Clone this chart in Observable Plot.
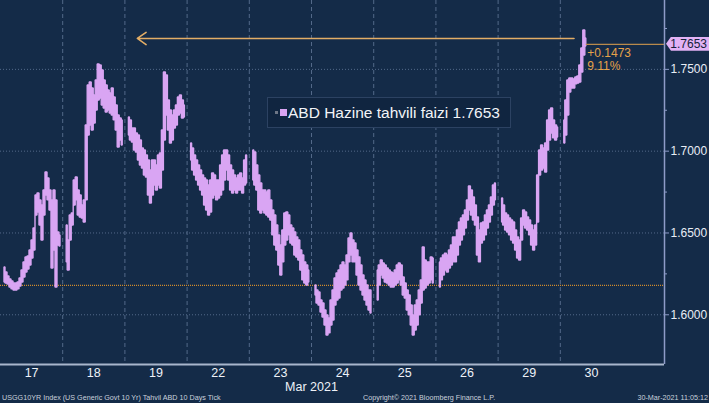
<!DOCTYPE html>
<html><head><meta charset="utf-8">
<script src="https://cdn.jsdelivr.net/npm/d3@7"></script>
<script src="https://cdn.jsdelivr.net/npm/@observablehq/plot@0.6"></script>
<style>
html,body{margin:0;padding:0;background:#142b48;}
#wrap{position:relative;width:709px;height:403px;overflow:hidden;background:#142b48;font-family:"Liberation Sans",Arial,sans-serif;}
#wrap svg{position:absolute;left:0;top:0;}
.legend{position:absolute;left:267px;top:97px;width:244px;height:31px;background:#102540;border:1px solid #2c4262;box-sizing:border-box;color:#f2f4f8;font-size:15.5px;line-height:29px;white-space:nowrap;}
.legend .g{position:absolute;left:7px;top:13px;width:3px;height:3px;background:#6d7686;}
.legend .sw{position:absolute;left:12px;top:11px;width:7px;height:7px;background:#d9a5f3;}
.legend .tx{position:absolute;left:20px;top:0;}
.tag{position:absolute;left:666px;width:43px;height:14px;background:#e2b2f5;color:#14213a;font-size:12px;line-height:14px;text-align:right;padding-right:2px;box-sizing:border-box;clip-path:polygon(0 50%,5px 0,100% 0,100% 100%,5px 100%);}
.cap{position:absolute;top:393px;font-size:7.2px;color:#c9d1dc;white-space:nowrap;}
</style></head><body><div id="wrap"></div>
<script>
// ---- data ----
const dayLabels = ["17","18","19","22","23","24","25","26","29","30"];
const monthLabel = "Mar 2021";
const seriesName = "ABD Hazine tahvili faizi";
const lastValue = 1.7653;
const netChange = 0.1473;
const pctChange = "9.11%";
const yTicks = [1.60, 1.65, 1.70, 1.75];
const yMinorTicks = [1.625, 1.675, 1.725, 1.775];
// recent-high arrow annotation (level, from day-position, to day-position)
const arrowLevel = 1.7689, arrowFrom = 9.22, arrowTo = 2.2;
// tick samples: regular time grid inside each day's session
const sampleStart = 0.0643, sampleStep = 0.03215;

const hi17 = [1.6289,1.6258,1.6234,1.6216,1.6203,1.6191,1.6191,1.6197,1.6222,1.6271,1.6320,1.6350,1.6356,1.6393,1.6454,1.6527,1.6729,1.6741,1.6699,1.6668,1.6760,1.6870,1.6833,1.6760,1.6699,1.6760,1.6699,1.6503,1.6485];
const lo17 = [1.6197,1.6191,1.6185,1.6167,1.6155,1.6148,1.6148,1.6155,1.6173,1.6197,1.6228,1.6258,1.6277,1.6301,1.6344,1.6393,1.6607,1.6625,1.6546,1.6454,1.6607,1.6729,1.6699,1.6637,1.6283,1.6393,1.6167,1.6423,1.6417];
const hi18 = [1.6546,1.6454,1.6607,1.6619,1.6821,1.6839,1.6760,1.6729,1.6668,1.6699,1.7157,1.7401,1.7420,1.7383,1.7340,1.7432,1.7530,1.7524,1.7493,1.7432,1.7401,1.7371,1.7353,1.7383,1.7328,1.7279,1.7218,1.7200,1.7188];
const lo18 = [1.6320,1.6271,1.6454,1.6546,1.6668,1.6699,1.6607,1.6595,1.6588,1.6564,1.6699,1.7096,1.7157,1.7126,1.7169,1.7249,1.7310,1.7322,1.7279,1.7261,1.7236,1.7249,1.7230,1.7218,1.7188,1.7126,1.7022,1.7065,1.7035];
const hi19 = [1.7206,1.7188,1.7139,1.7139,1.7108,1.7096,1.7065,1.7016,1.7004,1.6974,1.6943,1.6882,1.6943,1.6943,1.6912,1.6974,1.6986,1.7126,1.7481,1.7463,1.7310,1.7249,1.7218,1.7249,1.7279,1.7328,1.7340,1.7310,1.7279];
const lo19 = [1.7096,1.7065,1.7053,1.7004,1.6992,1.6943,1.6912,1.6894,1.6851,1.6839,1.6729,1.6680,1.6729,1.6790,1.6760,1.6790,1.6772,1.6882,1.7065,1.7218,1.7126,1.7047,1.7065,1.7139,1.7157,1.7218,1.7230,1.7200,1.7206];
const hi22 = [1.7047,1.7016,1.6974,1.6943,1.6912,1.6882,1.6851,1.6833,1.6821,1.6790,1.6821,1.6864,1.6851,1.6821,1.6821,1.6912,1.6974,1.7004,1.7004,1.6974,1.6912,1.6882,1.6851,1.6833,1.6851,1.6864,1.6833,1.6943,1.6974];
const lo22 = [1.6943,1.6882,1.6851,1.6821,1.6790,1.6760,1.6729,1.6668,1.6637,1.6607,1.6625,1.6711,1.6729,1.6699,1.6711,1.6729,1.6760,1.6821,1.6882,1.6821,1.6760,1.6741,1.6760,1.6741,1.6760,1.6760,1.6741,1.6790,1.6802];
const hi23 = [1.7004,1.6992,1.6912,1.6851,1.6802,1.6760,1.6760,1.6747,1.6760,1.6699,1.6637,1.6607,1.6546,1.6485,1.6423,1.6515,1.6619,1.6625,1.6607,1.6546,1.6527,1.6503,1.6472,1.6454,1.6393,1.6362,1.6320,1.6301,1.6271];
const lo23 = [1.6821,1.6790,1.6760,1.6637,1.6619,1.6637,1.6619,1.6607,1.6595,1.6576,1.6485,1.6423,1.6393,1.6301,1.6240,1.6320,1.6423,1.6454,1.6485,1.6436,1.6423,1.6362,1.6350,1.6332,1.6271,1.6210,1.6191,1.6179,1.6197];
const hi24 = [1.6179,1.6148,1.6136,1.6087,1.6069,1.6026,1.5996,1.5977,1.6087,1.6148,1.6222,1.6252,1.6271,1.6301,1.6320,1.6301,1.6362,1.6466,1.6497,1.6454,1.6436,1.6393,1.6350,1.6301,1.6240,1.6210,1.6179,1.6148,1.6148];
const lo24 = [1.6118,1.6069,1.6057,1.6014,1.5983,1.5934,1.5873,1.5886,1.5934,1.5965,1.6057,1.6087,1.6099,1.6148,1.6161,1.6179,1.6210,1.6320,1.6362,1.6320,1.6320,1.6240,1.6179,1.6148,1.6118,1.6087,1.6057,1.6026,1.6008];
const hi25 = [1.6271,1.6301,1.6332,1.6313,1.6301,1.6283,1.6271,1.6258,1.6252,1.6271,1.6301,1.6313,1.6301,1.6228,1.6191,1.6148,1.6118,1.6057,1.5996,1.6057,1.6087,1.6148,1.6210,1.6411,1.6332,1.6320,1.6320,1.6350,1.6344];
const lo25 = [1.6087,1.6179,1.6240,1.6222,1.6197,1.6191,1.6179,1.6167,1.6167,1.6179,1.6191,1.6210,1.6179,1.6118,1.6099,1.6026,1.5996,1.5934,1.5873,1.5904,1.5934,1.5996,1.6069,1.6148,1.6161,1.6179,1.6191,1.6210,1.6191];
const hi26 = [1.6320,1.6344,1.6362,1.6374,1.6362,1.6393,1.6423,1.6472,1.6472,1.6515,1.6564,1.6588,1.6607,1.6637,1.6699,1.6784,1.6760,1.6717,1.6668,1.6595,1.6515,1.6558,1.6564,1.6607,1.6637,1.6668,1.6717,1.6790,1.6802];
const lo26 = [1.6167,1.6210,1.6240,1.6271,1.6258,1.6283,1.6301,1.6320,1.6320,1.6362,1.6423,1.6454,1.6485,1.6527,1.6576,1.6637,1.6607,1.6576,1.6546,1.6362,1.6320,1.6436,1.6454,1.6485,1.6527,1.6564,1.6607,1.6668,1.6699];
const hi29 = [1.6711,1.6668,1.6619,1.6607,1.6588,1.6576,1.6564,1.6515,1.6472,1.6454,1.6588,1.6637,1.6625,1.6595,1.6576,1.6546,1.6515,1.6546,1.6851,1.7004,1.7035,1.7016,1.7047,1.7188,1.7249,1.7261,1.7188,1.7157,1.7145];
const lo29 = [1.6564,1.6546,1.6515,1.6503,1.6485,1.6454,1.6436,1.6393,1.6344,1.6332,1.6454,1.6546,1.6527,1.6515,1.6485,1.6423,1.6393,1.6423,1.6564,1.6851,1.6882,1.6894,1.6870,1.7004,1.7065,1.7108,1.7078,1.7065,1.7084];
const hi30 = [1.7188,1.7310,1.7432,1.7444,1.7444,1.7438,1.7450,1.7456,1.7524,1.7628,1.7738,1.7689];
const lo30 = [1.7047,1.7096,1.7218,1.7359,1.7383,1.7383,1.7408,1.7414,1.7420,1.7481,1.7585,1.7640];

const hiByDay = [hi17,hi18,hi19,hi22,hi23,hi24,hi25,hi26,hi29,hi30];
const loByDay = [lo17,lo18,lo19,lo22,lo23,lo24,lo25,lo26,lo29,lo30];

// ---- build table ----
const rows = [];
hiByDay.forEach((his, d) => {
  his.forEach((h, i) => rows.push({day: d, t: d + sampleStart + i * sampleStep, hi: h, lo: loByDay[d][i]}));
});
const lastT = rows[rows.length - 1].t;
const baseLevel = +(lastValue - netChange).toFixed(4);

const lav = "#d9a5f3";
const orange = "#e5a24a";
const xMax = 10.675;
const yDom = [1.5696, 1.7921];

const chart = Plot.plot({
  width: 709, height: 403,
  marginLeft: 0, marginTop: 0, marginRight: 45, marginBottom: 39,
  style: {background: "transparent", color: "#e8edf5", fontFamily: "Liberation Sans, Arial, sans-serif", fontSize: "12px"},
  x: {domain: [0, xMax]},
  y: {domain: yDom},
  marks: [
    Plot.gridY(yTicks, {stroke: "#5a7090", strokeOpacity: 0.9, strokeDasharray: "1,2"}),
    Plot.gridX(d3.range(1, dayLabels.length), {stroke: "#5a7090", strokeOpacity: 0.9, strokeDasharray: "4,3"}),
    Plot.ruleY([baseLevel], {stroke: "#d08a2c", strokeWidth: 1.2, strokeDasharray: "1,1"}),
    Plot.areaY(rows, {x: "t", y1: "lo", y2: "hi", z: "day", curve: "step", fill: lav, stroke: lav, strokeWidth: 1.4, strokeLinejoin: "miter"}),
    Plot.ruleY([lastValue], {x1: lastT, x2: xMax, stroke: "#b88a4c", strokeWidth: 1.2}),
    Plot.arrow([{from: arrowFrom, to: arrowTo, level: arrowLevel}], {x1: "from", x2: "to", y1: "level", y2: "level", stroke: "#e2ad66", strokeWidth: 1.6, headLength: 10, headAngle: 70}),
    Plot.text([{t: lastT, v: lastValue, s: "+" + netChange.toFixed(4)}], {x: "t", y: "v", text: "s", dx: 1, dy: 9, textAnchor: "start", fill: orange, fontSize: 12}),
    Plot.text([{t: lastT, v: lastValue, s: pctChange}], {x: "t", y: "v", text: "s", dx: 1, dy: 22, textAnchor: "start", fill: orange, fontSize: 12}),
    Plot.axisY(yTicks, {anchor: "right", tickSize: 4, tickPadding: 2, tickFormat: d3.format(".4f"), stroke: "#8e9cc8", fill: "#e8edf5", fontSize: 12}),
    Plot.axisY(yMinorTicks, {anchor: "right", tickSize: 2, tickFormat: () => "", stroke: "#8e9cc8"}),
    Plot.axisX(d3.range(dayLabels.length).map(i => i + 0.5), {anchor: "bottom", tickSize: 0, tickPadding: 4, tickFormat: v => dayLabels[Math.floor(v)], fill: "#eef2f8", fontSize: 12.5}),
    Plot.text([{t: 5, s: monthLabel}], {x: "t", text: "s", frameAnchor: "bottom", dy: 22, lineAnchor: "middle", fill: "#eef2f8", fontSize: 12.5}),
    Plot.ruleY([yDom[0]], {stroke: "#a8b6cc", strokeWidth: 2}),
    Plot.ruleX([xMax], {stroke: "#8e9cc8", strokeWidth: 1.5})
  ]
});

const wrap = document.getElementById("wrap");
wrap.appendChild(chart);

const ys = chart.scale("y");
const legend = document.createElement("div");
legend.className = "legend";
legend.innerHTML = `<span class="g"></span><span class="sw"></span><span class="tx">${seriesName} ${lastValue.toFixed(4)}</span>`;
wrap.appendChild(legend);

const tag = document.createElement("div");
tag.className = "tag";
tag.style.top = (ys.apply(lastValue) - 7) + "px";
tag.textContent = lastValue.toFixed(4);
wrap.appendChild(tag);

const caps = [
  ["USGG10YR Index (US Generic Govt 10 Yr) Tahvil ABD 10 Days  Tick", "left:2px"],
  ["Copyright\u00A9 2021 Bloomberg Finance L.P.", "left:363px"],
  ["30-Mar-2021 11:05:12", "right:1px"]
];
for (const [t, pos] of caps) {
  const c = document.createElement("div");
  c.className = "cap";
  c.setAttribute("style", pos);
  c.textContent = t;
  wrap.appendChild(c);
}
</script></body></html>
